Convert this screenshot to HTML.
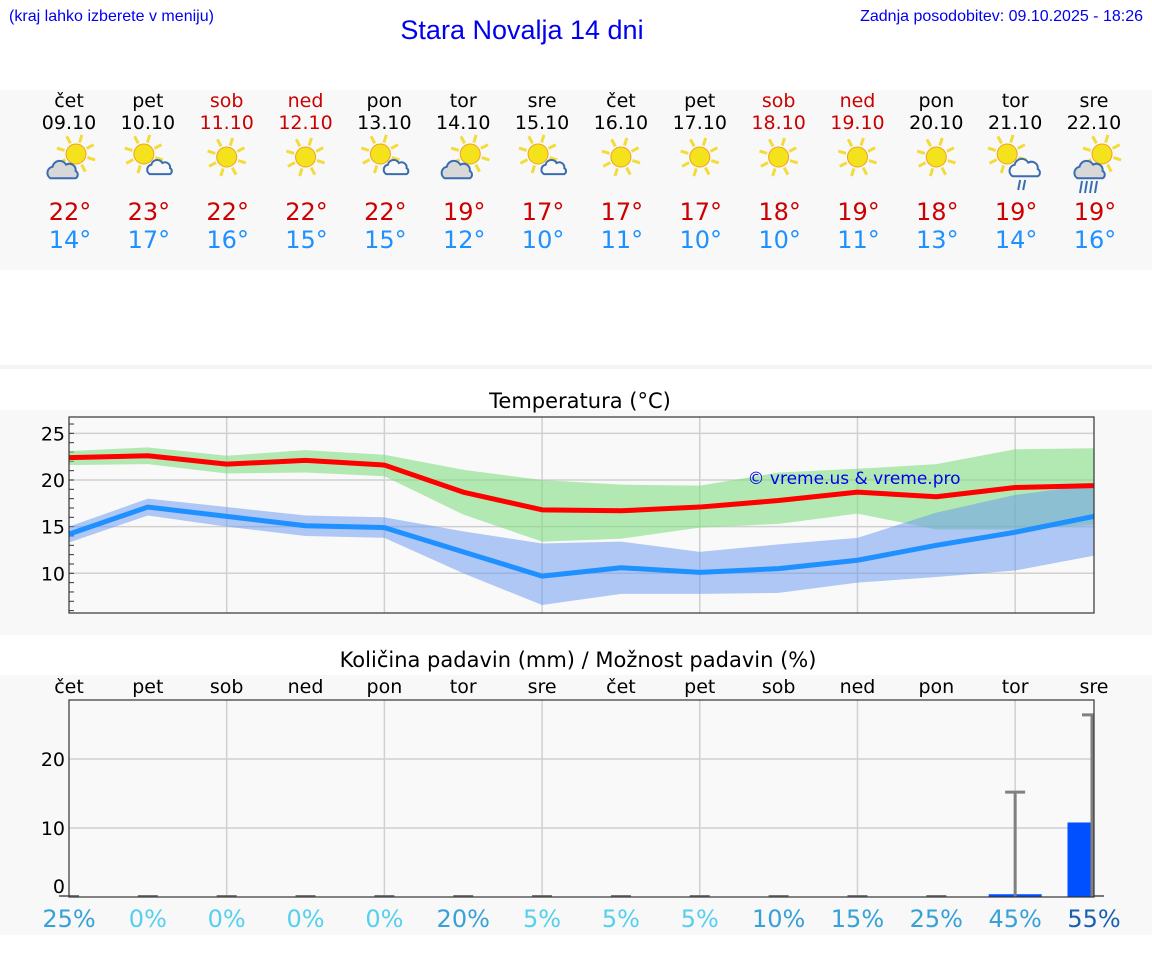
<!DOCTYPE html>
<html><head><meta charset="utf-8"><style>
html,body{margin:0;padding:0;background:#fff;}
svg{display:block;font-family:"DejaVu Sans","Liberation Sans",sans-serif;}
</style></head><body>
<svg id="s" width="1152" height="975" xmlns="http://www.w3.org/2000/svg">
<rect x="0" y="90" width="1152" height="180" fill="#f8f8f8"/>
<rect x="0" y="365" width="1152" height="4" fill="#f4f4f4"/>
<rect x="0" y="410" width="1152" height="225" fill="#f8f8f8"/>
<rect x="0" y="675" width="1152" height="260" fill="#f8f8f8"/>
<text x="9" y="21" font-size="16" fill="#0000ee" font-family="Liberation Sans,sans-serif" textLength="205">(kraj lahko izberete v meniju)</text>
<text x="522" y="39" font-size="27" fill="#0000ee" text-anchor="middle" font-family="Liberation Sans,sans-serif">Stara Novalja 14 dni</text>
<text x="1143" y="21" font-size="16" fill="#0000ee" text-anchor="end" font-family="Liberation Sans,sans-serif">Zadnja posodobitev: 09.10.2025 - 18:26</text>
<text x="580" y="408" font-size="21" text-anchor="middle" fill="#000">Temperatura (°C)</text>
<text x="578" y="667" font-size="21" text-anchor="middle" fill="#000">Količina padavin (mm) / Možnost padavin (%)</text>
<g id="hdr"></g><g id="temp"></g><g id="prec"></g>
</svg>
<script>
const days=["čet","pet","sob","ned","pon","tor","sre","čet","pet","sob","ned","pon","tor","sre"];
const dates=["09.10","10.10","11.10","12.10","13.10","14.10","15.10","16.10","17.10","18.10","19.10","20.10","21.10","22.10"];
const weekend=[0,0,1,1,0,0,0,0,0,1,1,0,0,0];
const icons=["gcloud","cloud","sun","sun","cloud","gcloud","cloud","sun","sun","sun","sun","sun","rain","grain"];
const dayMax=[22,23,22,22,22,19,17,17,17,18,19,18,19,19];
const dayMin=[14,17,16,15,15,12,10,11,10,10,11,13,14,16];
const tMax=[22.4,22.6,21.7,22.1,21.6,18.7,16.8,16.7,17.1,17.8,18.7,18.2,19.2,19.4];
const tMaxHi=[23.1,23.5,22.6,23.2,22.7,21.1,20.0,19.5,19.4,20.8,21.2,21.7,23.3,23.4];
const tMaxLo=[21.6,21.7,20.7,20.8,20.4,16.3,13.4,13.7,14.9,15.3,16.4,14.7,14.7,15.2];
const tMin=[14.2,17.1,16.1,15.1,14.9,12.3,9.7,10.6,10.1,10.5,11.4,13.0,14.4,16.1];
const tMinHi=[15.0,18.0,17.1,16.2,16.0,14.5,13.2,13.4,12.3,13.1,13.8,16.5,18.4,19.5];
const tMinLo=[13.3,16.2,15.0,14.0,13.8,10.0,6.6,7.8,7.8,7.9,9.0,9.6,10.3,11.9];
const tTicks=[10,15,20,25];
const rain=[0,0,0,0,0,0,0,0,0,0,0,0,0.4,10.8];
const rainMax=[0,0,0,0,0,0,0,0,0,0,0,0,15.2,26.4];
const rainProb=[25,0,0,0,0,20,5,5,5,10,15,25,45,55];
const pTicks=[0,10,20];
const NS="http://www.w3.org/2000/svg";
function mk(p,t,a,txt){const e=document.createElementNS(NS,t);for(const k in a)e.setAttribute(k,a[k]);if(txt!==undefined)e.textContent=txt;p.appendChild(e);return e;}
const X0=69,X1=1094;
const xd=i=>X0+i*(X1-X0)/13;
const hdr=document.getElementById('hdr');
function sun(g,cx,cy,r){
  for(let k=0;k<8;k++){const a=k*Math.PI/4+0.3;
    mk(g,'line',{x1:cx+Math.cos(a)*(r+2),y1:cy+Math.sin(a)*(r+2),x2:cx+Math.cos(a)*(r+10),y2:cy+Math.sin(a)*(r+10),stroke:'#f2dc3a','stroke-width':3});}
  mk(g,'circle',{cx:cx,cy:cy,r:r,fill:'#f4e21c',stroke:'#f0a020','stroke-width':1});
}
function cloud(g,cx,cy,fill,s){
  const p=`M${cx-12*s},${cy+6*s} a${6*s},${6*s} 0 0 1 ${2*s},${-11*s} a${7*s},${7*s} 0 0 1 ${13*s},${-2*s} a${6*s},${6*s} 0 0 1 ${9*s},${6*s} a${4*s},${4*s} 0 0 1 ${0},${7*s} z`;
  mk(g,'path',{d:p,fill:fill,stroke:'#3a6cb0','stroke-width':2});
}
for(let i=0;i<14;i++){
  const x=xd(i);const col=weekend[i]?'#cc0000':'#000';
  const g=mk(hdr,'g',{});
  
  
  mk(g,'text',{x:x,y:107,'font-size':19,'text-anchor':'middle',fill:col},days[i]);
  mk(g,'text',{x:x,y:129,'font-size':19,'text-anchor':'middle',fill:col},dates[i]);
  const ic=mk(g,'g',{});
  
  
  const t=icons[i];
  if(t==='sun'){sun(ic,x,157,10);}
  else if(t==='cloud'){sun(ic,x-4,154,10);cloud(ic,x+12,169,'#f8f8f8',0.85);}
  else if(t==='gcloud'){sun(ic,x+7,154,10);cloud(ic,x-6,172,'#d8d8d8',1.05);}
  else if(t==='rain'){sun(ic,x-8,154,10);cloud(ic,x+10,170,'#f8f8f8',1.05);
    mk(ic,'path',{d:`M${x+5},${180} l-2,10 M${x+10},${180} l-2,10`,stroke:'#3a6cb0','stroke-width':2});}
  else {sun(ic,x+8,154,10);cloud(ic,x-4,172,'#d8d8d8',1.05);
    mk(ic,'path',{d:`M${x-12},${181} l-2,12 M${x-7},${181} l-2,12 M${x-2},${181} l-2,12 M${x+3},${181} l-2,12`,stroke:'#3a6cb0','stroke-width':2});}
  mk(g,'text',{x:x+1,y:220,'font-size':24,'text-anchor':'middle',fill:'#cc0000'},dayMax[i]+'°');
  mk(g,'text',{x:x+1,y:248,'font-size':24,'text-anchor':'middle',fill:'#1e90ff'},dayMin[i]+'°');
}
const tg=document.getElementById('temp');
const TY0=417,TY1=613;
const yt=v=>480-(v-20)*9.33;
mk(tg,'rect',{x:X0,y:TY0,width:X1-X0,height:TY1-TY0,fill:'#f9f9f9'});
for(const v of tTicks){mk(tg,'line',{x1:X0,x2:X1,y1:yt(v),y2:yt(v),stroke:'#d0d0d0','stroke-width':1.5});
  const l=mk(tg,'text',{x:X0-4,y:yt(v)+7,'font-size':19,'text-anchor':'end',fill:'#000'},v);
  
  }
for(let v=6;v<=26;v++)mk(tg,'line',{x1:X0,x2:X0+5,y1:yt(v),y2:yt(v),stroke:'#333','stroke-width':1});
for(let i=2;i<14;i+=2)mk(tg,'line',{x1:xd(i),x2:xd(i),y1:TY0,y2:TY1,stroke:'#d0d0d0','stroke-width':1.5});
function band(hi,lo,fill,name){let d='';hi.forEach((v,i)=>d+=(i?'L':'M')+xd(i)+','+yt(v));
  for(let i=lo.length-1;i>=0;i--)d+='L'+xd(i)+','+yt(lo[i]);
  const p=mk(tg,'path',{d:d+'Z',fill:fill});
  
  }
function line(a,col,name){const p=mk(tg,'polyline',{points:a.map((v,i)=>xd(i)+','+yt(v)).join(' '),fill:'none',stroke:col,'stroke-width':5,'stroke-linejoin':'round'});
  
  }
band(tMaxHi,tMaxLo,'rgba(120,220,120,0.55)','max-temp-range');
band(tMinHi,tMinLo,'rgba(100,150,240,0.5)','min-temp-range');
line(tMax,'#ff0000','max-temp-line');
line(tMin,'#1e90ff','min-temp-line');
mk(tg,'rect',{x:X0,y:TY0,width:X1-X0,height:TY1-TY0,fill:'none',stroke:'#333','stroke-width':1.2});
const wm=mk(tg,'text',{x:854,y:484,'font-size':17,'text-anchor':'middle',fill:'#0000ee'},'© vreme.us & vreme.pro');


const pg=document.getElementById('prec');
const PY0=700,PY1=897;
const yp=v=>PY1-v*6.9;
mk(pg,'rect',{x:X0,y:PY0,width:X1-X0,height:PY1-PY0,fill:'#f9f9f9'});
for(const v of pTicks){if(v>0)mk(pg,'line',{x1:X0,x2:X1,y1:yp(v),y2:yp(v),stroke:'#d0d0d0','stroke-width':1.5});
  const l=mk(pg,'text',{x:X0-4,y:(v?yp(v)+7:893),'font-size':19,'text-anchor':'end',fill:'#000'},v);
  
  }
for(let i=2;i<14;i+=2)mk(pg,'line',{x1:xd(i),x2:xd(i),y1:PY0,y2:PY1,stroke:'#d0d0d0','stroke-width':1.5});
const pcol=p=>p>=50?'#1a60b0':(p>=10?'#36a0d8':'#55d0ee');
for(let i=0;i<14;i++){const x=xd(i);
  mk(pg,'text',{x:x,y:693,'font-size':19,'text-anchor':'middle',fill:'#000'},days[i]);
  mk(pg,'line',{x1:x-10,x2:x+10,y1:PY1-1,y2:PY1-1,stroke:'#777','stroke-width':2});
  if(rain[i]>0){const w=53;const bx=Math.max(X0,x-w/2),bx2=Math.min(X1,x+w/2);
    const b=mk(pg,'rect',{x:bx,y:yp(rain[i]),width:bx2-bx,height:PY1-yp(rain[i]),fill:'#0050ff'});
    
    }
  if(rainMax[i]>0){const ex=Math.min(x,X1-2);
    const e=mk(pg,'path',{d:`M${ex},${PY1} V${yp(rainMax[i])} M${ex-10},${yp(rainMax[i])} H${Math.min(ex+10,X1)}`,stroke:'#808080','stroke-width':3,fill:'none'});
    
    }
  const t=mk(pg,'text',{x:x,y:927,'font-size':24,'text-anchor':'middle',fill:pcol(rainProb[i])},rainProb[i]+'%');
  
  
}
mk(pg,'rect',{x:X0,y:PY0,width:X1-X0,height:PY1-PY0,fill:'none',stroke:'#333','stroke-width':1.2});
</script>
</body></html>
